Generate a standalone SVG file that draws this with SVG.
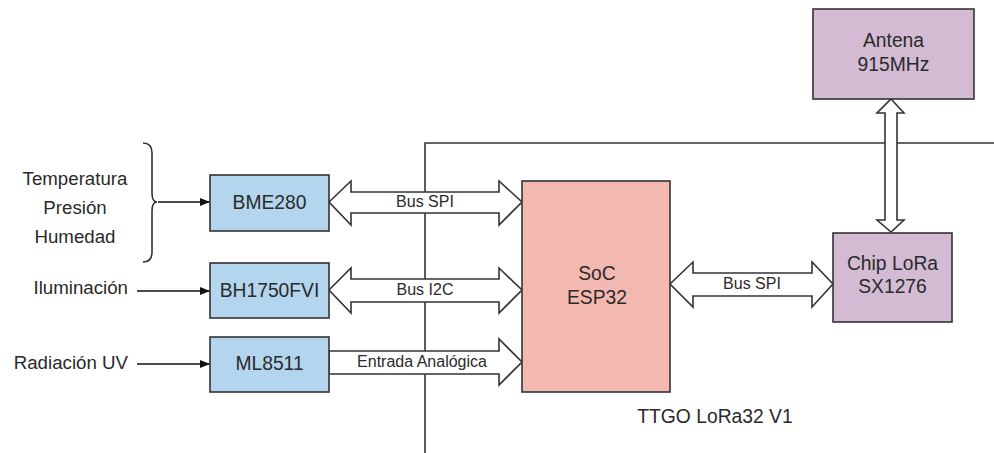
<svg xmlns="http://www.w3.org/2000/svg" width="994" height="453" viewBox="0 0 994 453">
<defs>
<marker id="ah" markerWidth="10" markerHeight="8" refX="10" refY="4" orient="auto" markerUnits="userSpaceOnUse">
<path d="M0,0 L10,4 L0,8 Z" fill="#111"/>
</marker>
<style>
text{font-family:"Liberation Sans",Arial,sans-serif;fill:#2a2a2a;text-anchor:middle}
.lbl{font-size:18.7px}
.box{font-size:19.3px}
.bus{font-size:16px}
.blue{fill:#b3d5ee;stroke:#333;stroke-width:1.6}
.pink{fill:#f3b8b0;stroke:#333;stroke-width:1.6}
.purple{fill:#d4bbd4;stroke:#333;stroke-width:1.6}
.ln{fill:none;stroke:#333;stroke-width:1.6}
.arr{fill:none;stroke:#111;stroke-width:1.4;marker-end:url(#ah)}
.big{fill:#fff;stroke:#333;stroke-width:1.6;stroke-linejoin:miter}
</style>
</defs>
<rect width="994" height="453" fill="#fff"/>

<g id="board">
<path class="ln" d="M425,453 L425,143 L994,143"/>
<text x="715" y="423" class="box">TTGO LoRa32 V1</text>
</g>

<g id="inputs">
<text x="75" y="185" class="lbl">Temperatura</text>
<text x="75" y="214" class="lbl">Presión</text>
<text x="75" y="243" class="lbl">Humedad</text>
<path class="ln" stroke-width="1.4" d="M143,143 Q152,143 152,153 L152,193 Q152,202 157,202 Q152,202 152,211 L152,252 Q152,262 143,262"/>
<text x="128" y="294" class="lbl" style="text-anchor:end">Iluminación</text>
<text x="128" y="369" class="lbl" style="text-anchor:end">Radiación UV</text>
</g>

<g id="connectors">
<line class="arr" x1="158" y1="202" x2="210" y2="202"/>
<line class="arr" x1="137" y1="291" x2="210" y2="291"/>
<line class="arr" x1="137" y1="364" x2="210" y2="364"/>
<polygon class="big" points="329,202 351,181 351,192 499,192 499,181 522,202 499,225 499,213 351,213 351,225"/>
<polygon class="big" points="329,290 351,268 351,279 499,279 499,268 522,290 499,313 499,302 351,302 351,313"/>
<polygon class="big" points="329,351 499,351 499,339 522,362 499,385 499,374 329,374"/>
<polygon class="big" points="670,284 693,262 693,273 812,273 812,262 833,284 812,307 812,296 693,296 693,307"/>
<polygon class="big" points="891,99 904,113 897,113 897,220 904,220 891,232 877,220 885,220 885,113 877,113"/>
<text x="425" y="207" class="bus">Bus SPI</text>
<text x="425" y="295" class="bus">Bus I2C</text>
<text x="422" y="367" class="bus">Entrada Analógica</text>
<text x="752" y="289" class="bus">Bus SPI</text>
</g>

<g id="bme280">
<rect class="blue" x="210" y="175" width="119" height="56"/>
<text x="269.5" y="209" class="box">BME280</text>
</g>
<g id="bh1750">
<rect class="blue" x="210" y="263" width="119" height="55"/>
<text x="269.5" y="297" class="box">BH1750FVI</text>
</g>
<g id="ml8511">
<rect class="blue" x="210" y="337" width="119" height="55"/>
<text x="269.5" y="370" class="box">ML8511</text>
</g>
<g id="soc">
<rect class="pink" x="522" y="181" width="148" height="211"/>
<text x="597" y="280" class="box">SoC</text>
<text x="597" y="304" class="box">ESP32</text>
</g>
<g id="lora">
<rect class="purple" x="833" y="233" width="119" height="89"/>
<text x="892.5" y="270" class="box">Chip LoRa</text>
<text x="892.5" y="293" class="box">SX1276</text>
</g>
<g id="antena">
<rect class="purple" x="813" y="9" width="161" height="90"/>
<text x="893.5" y="47" class="box">Antena</text>
<text x="893.5" y="71" class="box">915MHz</text>
</g>
</svg>
